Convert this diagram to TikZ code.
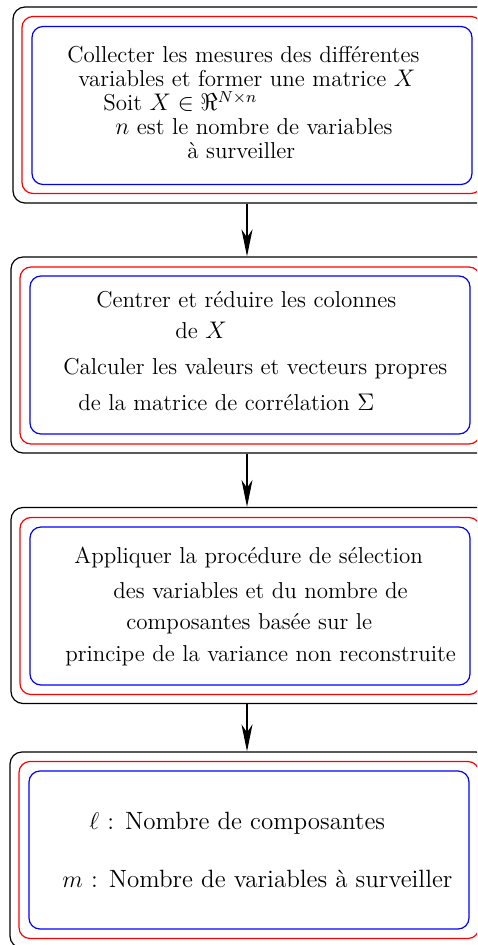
\documentclass[tikz,border=0pt]{standalone}
\usetikzlibrary{arrows.meta}
\begin{document}
\begin{tikzpicture}[x=0.5pt,y=-0.5pt]
            \tikzstyle{outerbox}=[draw=black, line width=0.6pt, rounded corners=6pt, minimum width=239pt, minimum height=98pt, inner sep=0pt]
            \tikzstyle{midbox}=[draw=red, line width=0.6pt, rounded corners=5.5pt, minimum width=230pt, minimum height=88.5pt, inner sep=0pt]
            \tikzstyle{innerbox}=[draw=blue, line width=0.6pt, rounded corners=5.5pt, minimum width=220pt, minimum height=79pt, inner sep=0pt]
            \tikzstyle{txt}=[anchor=base west, inner sep=0pt, font=\fontsize{11.5}{13}\selectfont]
            \tikzstyle{bigtxt}=[txt, font=\fontsize{12.5}{14}\selectfont]
            \tikzstyle{flow}=[line width=0.6pt, -{Stealth[length=13.5pt, width=5.5pt, inset=4pt]}]
            \clip (0,0) rectangle (477,945);
                % first step
                \node [outerbox] (k1) at (252,105) {};
                \node [midbox] (r1) at (252,105) {};
                \node [innerbox] (b1) at (252,105.5) {};
                \node [txt] (t1a) at (67,63) {Collecter les mesures des différentes};
                \node [txt] (t1b) at (78,87) {variables et former une matrice $X$};
                \node [txt] (t1c) at (103,111) {Soit $X \in \Re^{N\times n}$};
                \node [txt] (t1d) at (115,135) {$n$ est le nombre de variables};
                \node [txt] (t1e) at (187,159) {à surveiller};
                % second step
                \node [outerbox] (k2) at (250,355) {};
                \node [midbox] (r2) at (250,355.5) {};
                \node [innerbox] (b2) at (250,355) {};
                \node [txt] (t2a) at (96,308) {Centrer et réduire les colonnes};
                \node [txt] (t2b) at (175,339) {de $X$};
                \node [txt] (t2c) at (63,375) {Calculer les valeurs et vecteurs propres};
                \node [txt] (t2d) at (78,411) {de la matrice de corrélation $\Sigma$};
                % third step
                \node [outerbox] (k3) at (250,605.5) {};
                \node [midbox] (r3) at (250,606) {};
                \node [innerbox] (b3) at (250,606) {};
                \node [txt] (t3a) at (74,563) {Appliquer la procédure de sélection};
                \node [txt] (t3b) at (113,598) {des variables et du nombre de};
                \node [txt] (t3c) at (126,629) {composantes basée sur le};
                \node [txt] (t3d) at (65,661) {principe de la variance non reconstruite};
                % result
                \node [outerbox] (k4) at (249,850) {};
                \node [midbox] (r4) at (249,850) {};
                \node [innerbox] (b4) at (249,850) {};
                \node [bigtxt] (t4a) at (89,829) {$\ell$ : Nombre de composantes};
                \node [bigtxt] (t4b) at (62,887) {$m$ : Nombre de variables à surveiller};
                % arrows
                \draw [flow] ([xshift=-2.5pt]k1.south) -- ([xshift=-2.5pt]k1.south |- k2.north);
                \draw [flow] ([xshift=-1.5pt]k2.south) -- ([xshift=-1.5pt]k2.south |- k3.north);
                \draw [flow] ([xshift=-1.5pt]k3.south) -- ([xshift=-1.5pt]k3.south |- k4.north);
\end{tikzpicture}
\end{document}
